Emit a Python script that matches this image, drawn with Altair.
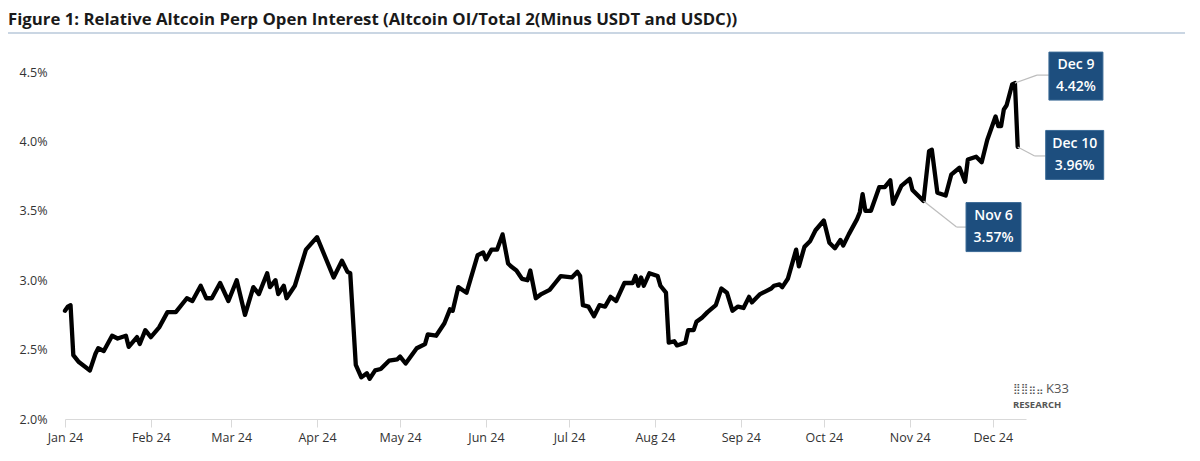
import altair as alt
import pandas as pd

dates = [
    "2024-01-01", "2024-01-02", "2024-01-03", "2024-01-04", "2024-01-06", "2024-01-08", "2024-01-10",
    "2024-01-12", "2024-01-13", "2024-01-15", "2024-01-18", "2024-01-20", "2024-01-23", "2024-01-24",
    "2024-01-27", "2024-01-28", "2024-01-30", "2024-02-01", "2024-02-04", "2024-02-07", "2024-02-10",
    "2024-02-14", "2024-02-16", "2024-02-19", "2024-02-21", "2024-02-23", "2024-02-26", "2024-02-29",
    "2024-03-03", "2024-03-06", "2024-03-09", "2024-03-11", "2024-03-14", "2024-03-15", "2024-03-17",
    "2024-03-18", "2024-03-20", "2024-03-21", "2024-03-24", "2024-03-28", "2024-04-01", "2024-04-07",
    "2024-04-10", "2024-04-12", "2024-04-13", "2024-04-15", "2024-04-17", "2024-04-19", "2024-04-20",
    "2024-04-22", "2024-04-24", "2024-04-27", "2024-04-30", "2024-05-01", "2024-05-03", "2024-05-07",
    "2024-05-10", "2024-05-11", "2024-05-14", "2024-05-17", "2024-05-19", "2024-05-20", "2024-05-22",
    "2024-05-25", "2024-05-29", "2024-05-31", "2024-06-01", "2024-06-03", "2024-06-05", "2024-06-07",
    "2024-06-09", "2024-06-10", "2024-06-12", "2024-06-14", "2024-06-16", "2024-06-17", "2024-06-19",
    "2024-06-21", "2024-06-24", "2024-06-26", "2024-06-28", "2024-07-02", "2024-07-04", "2024-07-05",
    "2024-07-06", "2024-07-08", "2024-07-10", "2024-07-12", "2024-07-14", "2024-07-16", "2024-07-18",
    "2024-07-21", "2024-07-24", "2024-07-25", "2024-07-26", "2024-07-27", "2024-07-28", "2024-07-30",
    "2024-08-02", "2024-08-03", "2024-08-05", "2024-08-06", "2024-08-08", "2024-08-09", "2024-08-12",
    "2024-08-13", "2024-08-15", "2024-08-16", "2024-08-18", "2024-08-20", "2024-08-23", "2024-08-25",
    "2024-08-27", "2024-08-29", "2024-08-31", "2024-09-02", "2024-09-04", "2024-09-05", "2024-09-08",
    "2024-09-10", "2024-09-12", "2024-09-13", "2024-09-15", "2024-09-16", "2024-09-18", "2024-09-20",
    "2024-09-21", "2024-09-22", "2024-09-24", "2024-09-26", "2024-09-28", "2024-10-01", "2024-10-03",
    "2024-10-05", "2024-10-07", "2024-10-08", "2024-10-10", "2024-10-13", "2024-10-14", "2024-10-15",
    "2024-10-16", "2024-10-18", "2024-10-21", "2024-10-23", "2024-10-25", "2024-10-26", "2024-10-29",
    "2024-11-01", "2024-11-02", "2024-11-04", "2024-11-06", "2024-11-08", "2024-11-09", "2024-11-11",
    "2024-11-14", "2024-11-16", "2024-11-19", "2024-11-21", "2024-11-22", "2024-11-25", "2024-11-27",
    "2024-11-29", "2024-12-02", "2024-12-03", "2024-12-04", "2024-12-05", "2024-12-06", "2024-12-08",
    "2024-12-09", "2024-12-10",
]

values = [
    2.78, 2.81, 2.82, 2.46, 2.41, 2.38, 2.35,
    2.47, 2.51, 2.49, 2.60, 2.58, 2.60, 2.52,
    2.59, 2.54, 2.64, 2.59, 2.66, 2.77, 2.77,
    2.87, 2.85, 2.96, 2.87, 2.87, 2.98, 2.85,
    3.00, 2.75, 2.95, 2.90, 3.05, 2.95, 3.00,
    2.90, 2.96, 2.87, 2.96, 3.22, 3.31, 3.02,
    3.14, 3.06, 3.05, 2.39, 2.30, 2.33, 2.29,
    2.35, 2.36, 2.42, 2.43, 2.45, 2.40, 2.51,
    2.54, 2.61, 2.60, 2.69, 2.79, 2.78, 2.95,
    2.91, 3.18, 3.20, 3.15, 3.22, 3.22, 3.33,
    3.12, 3.10, 3.07, 3.01, 3.00, 3.07, 2.87,
    2.90, 2.93, 2.98, 3.03, 3.02, 3.06, 3.03,
    2.82, 2.81, 2.74, 2.82, 2.81, 2.88, 2.85,
    2.98, 2.98, 3.03, 2.96, 3.02, 2.96, 3.05,
    3.03, 2.96, 2.91, 2.55, 2.56, 2.53, 2.55,
    2.64, 2.64, 2.70, 2.73, 2.77, 2.82, 2.94,
    2.91, 2.78, 2.81, 2.80, 2.88, 2.84, 2.90,
    2.92, 2.94, 2.96, 2.97, 2.95, 3.01, 3.15,
    3.22, 3.10, 3.24, 3.28, 3.36, 3.43, 3.27,
    3.23, 3.29, 3.25, 3.33, 3.44, 3.49, 3.62,
    3.50, 3.50, 3.67, 3.67, 3.72, 3.55, 3.68,
    3.73, 3.65, 3.61, 3.57, 3.93, 3.94, 3.63,
    3.61, 3.76, 3.81, 3.71, 3.87, 3.89, 3.85,
    4.01, 4.18, 4.11, 4.11, 4.23, 4.26, 4.41,
    4.42, 3.96,
]

y_ticks = [2.0, 2.5, 3.0, 3.5, 4.0, 4.5]
month_ticks = list(range(1, 13))

ann_dates = ["2024-12-09", "2024-12-10", "2024-11-06"]
ann_values = [4.42, 3.96, 3.57]
ann_labels = ["Dec 9", "Dec 10", "Nov 6"]
ann_pcts = ["4.42%", "3.96%", "3.57%"]

title_text = "Figure 1: Relative Altcoin Perp Open Interest (Altcoin OI/Total 2(Minus USDT and USDC))"

FONT = "Open Sans"
BOX = "#1d4e7e"

df = pd.DataFrame({"date": [d + "T00:00:00" for d in dates], "value": values})

xscale = alt.Scale(domain=[alt.DateTime(year=2024, month=1, date=1),
                           alt.DateTime(year=2024, month=12, date=13)])
yscale = alt.Scale(domain=[2.0, 4.5], zero=False, nice=False)

x_enc = alt.X("date:T", scale=xscale, title=None,
              axis=alt.Axis(format="%b %y",
                            values=[alt.DateTime(year=2024, month=m, date=1) for m in month_ticks],
                            domainColor="#d9d9d9", tickColor="#d9d9d9", tickSize=8,
                            labelPadding=4, labelFlush=False, labelOverlap=False, grid=False,
                            labelFontSize=12.5, labelColor="#333333", labelFont=FONT))
y_enc = alt.Y("value:Q", scale=yscale, title=None,
              axis=alt.Axis(values=y_ticks, labelExpr="format(datum.value,'.1f')+'%'",
                            domain=False, ticks=False, grid=False, labelPadding=18,
                            labelFlush=False,
                            labelFontSize=12.5, labelColor="#333333", labelFont=FONT))

line = alt.Chart(df).mark_line(color="black", strokeWidth=4.3, strokeJoin="round",
                               strokeCap="round").encode(x=x_enc, y=y_enc)

one = pd.DataFrame({"k": [0]})

title = alt.Chart(one).mark_text(text=title_text, align="left", baseline="top",
                                 font=FONT, fontSize=16.8, fontWeight="bold",
                                 color="#1a1a1a").encode(x=alt.value(-57), y=alt.value(-60))
sep = alt.Chart(one).mark_rule(color="#b9c8da", strokeWidth=1.5).encode(
    x=alt.value(-57), x2=alt.value(1120), y=alt.value(-39))

logo_dots = alt.Chart(one).mark_text(text="⣿⣿⣶⣤", align="left", baseline="middle",
                                     font="DejaVu Sans", fontSize=10.5, color="#555555").encode(
    x=alt.value(948), y=alt.value(317))
logo_k = alt.Chart(one).mark_text(text="K33", align="left", baseline="middle",
                                  font=FONT, fontSize=13, color="#555555").encode(
    x=alt.value(981), y=alt.value(317))
logo_r = alt.Chart(one).mark_text(text="RESEARCH", align="left", baseline="middle",
                                  font=FONT, fontSize=9.5, fontWeight="bold",
                                  color="#555555").encode(
    x=alt.value(948), y=alt.value(333))

# annotation geometry (pixel offsets relative to the annotated point)
geo = [
    dict(elbow=(22, -8), left=35, center=(61, -7), w=54, h=48),
    dict(elbow=(17, 9), left=28, center=(57, 8), w=58, h=49),
    dict(elbow=(33, 26), left=43, center=(70, 26), w=55, h=49),
]

layers = [sep, title, line]
for i in range(len(ann_dates)):
    a = pd.DataFrame({"date": [ann_dates[i] + "T00:00:00"], "value": [ann_values[i]],
                      "label": [ann_labels[i]], "pct": [ann_pcts[i]]})
    g = geo[i]
    ex, ey = g["elbow"]
    cx, cy = g["center"]
    base = alt.Chart(a)
    xe = alt.X("date:T", scale=xscale)
    ye = alt.Y("value:Q", scale=yscale)
    seg1 = base.mark_rule(color="#bdbdbd", strokeWidth=1.2, x2Offset=ex, y2Offset=ey).encode(
        x=xe, y=ye, x2="date:T", y2="value:Q")
    seg2 = base.mark_rule(color="#bdbdbd", strokeWidth=1.2, xOffset=ex, yOffset=ey,
                          x2Offset=g["left"], y2Offset=ey).encode(
        x=xe, y=ye, x2="date:T", y2="value:Q")
    r = g["h"] / g["w"]
    shape = f"M-1,-{r:.4f}L1,-{r:.4f}L1,{r:.4f}L-1,{r:.4f}Z"
    box = base.mark_point(shape=shape, size=g["w"] ** 2, filled=True, fill=BOX, opacity=1,
                          stroke="#3b6a96", strokeWidth=1, xOffset=cx, yOffset=cy).encode(x=xe, y=ye)
    t1 = base.mark_text(font=FONT, fontSize=14, fontWeight=600, color="white",
                        align="center", baseline="middle", dx=cx, dy=cy - 11).encode(
        x=xe, y=ye, text="label:N")
    t2 = base.mark_text(font=FONT, fontSize=14, fontWeight=600, color="white",
                        align="center", baseline="middle", dx=cx, dy=cy + 11).encode(
        x=xe, y=ye, text="pct:N")
    layers += [seg1, seg2, box, t1, t2]

layers += [logo_dots, logo_k, logo_r]

chart = alt.layer(*layers).properties(
    width=961, height=347,
    autosize=alt.AutoSizeParams(type="none"),
    padding={"left": 57, "top": 64, "right": 160, "bottom": 42},
    background="white",
).configure_view(stroke=None)

chart.save("out.html", embed_options={"renderer": "svg", "actions": False})
